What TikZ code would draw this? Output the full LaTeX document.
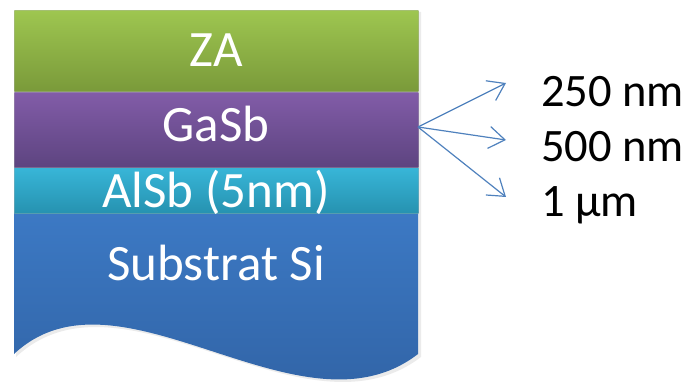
\documentclass[tikz,border=0pt]{standalone}
\usepackage{fontspec}
\setmainfont{Carlito}
\usetikzlibrary{arrows.meta}
\definecolor{zaT}{RGB}{158,198,80}
\definecolor{zaB}{RGB}{122,154,58}
\definecolor{gaT}{RGB}{130,92,168}
\definecolor{gaB}{RGB}{93,68,128}
\definecolor{alT}{RGB}{56,182,216}
\definecolor{alB}{RGB}{38,146,176}
\definecolor{siT}{RGB}{60,121,196}
\definecolor{siB}{RGB}{46,94,158}
\definecolor{arrC}{RGB}{79,129,189}
\begin{document}
\begin{tikzpicture}[x=1pt,y=-1pt,
  layerbox/.style={rectangle, inner sep=0pt, minimum width=404pt, anchor=north west, draw=white!70!black, draw opacity=0.35, line width=0.6pt},
  lbl/.style={anchor=base, inner sep=0pt, text=white, font=\fontsize{51}{61}\selectfont},
  rlbl/.style={anchor=base west, inner sep=0pt, text=black, font=\fontsize{46.5}{55}\selectfont},
  arr/.style={draw=arrC, line width=1.2pt, -{Straight Barb[length=16pt,width=22pt,line width=1.2pt]}}]
\useasboundingbox (0,0) rectangle (689,385);
% soft shadow
\fill[black, opacity=0.08] (16,12) -- (421,12) -- (421,357) .. controls (303,447) and (123,257) .. (16,357) -- cycle;
% substrate
\path[top color=siT, bottom color=siB] (14,213) -- (418,213) -- (418,354) .. controls (300,445) and (120,255) .. (14,354) -- cycle;
\node[layerbox, minimum height=46pt, top color=alT, bottom color=alB] (alsb) at (14,167) {};
\node[layerbox, minimum height=75pt, top color=gaT, bottom color=gaB] (gasb) at (14,92) {};
\node[layerbox, minimum height=81pt, top color=zaT, bottom color=zaB] (za) at (14,10) {};
\node[lbl] (tza) at (216,67) {ZA};
\node[lbl] (tga) at (216,142) {GaSb};
\node[lbl] (tal) at (216,208) {AlSb (5nm)};
\node[lbl] (tsi) at (216,280) {Substrat Si};
\node[rlbl] (r1) at (541,107) {250 nm};
\node[rlbl] (r2) at (541,162) {500 nm};
\node[rlbl] (r3) at (541,217) {1 µm};
\coordinate (src) at (418,127);
\coordinate (t1) at (506,83);
\coordinate (t2) at (506,140);
\coordinate (t3) at (506,197);
\draw[arr] (src) -- (t1);
\draw[arr] (src) -- (t2);
\draw[arr] (src) -- (t3);
\end{tikzpicture}
\end{document}
